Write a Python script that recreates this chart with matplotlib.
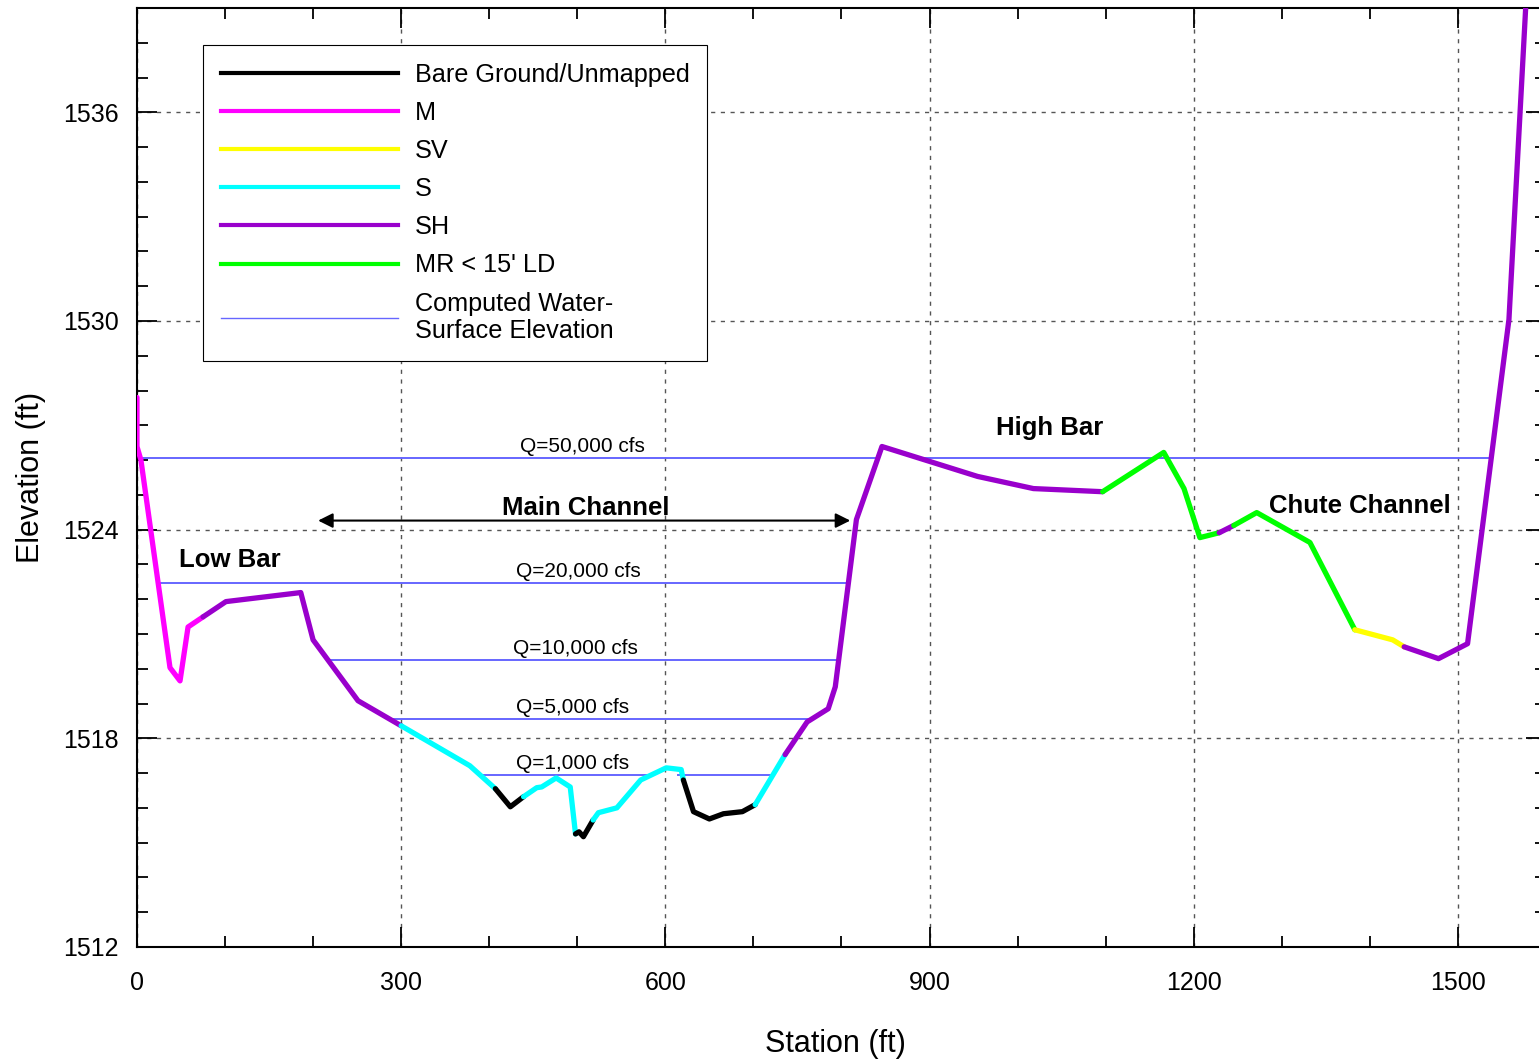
import numpy as np
import matplotlib
matplotlib.use('Agg')
from matplotlib import pyplot as plt
from matplotlib.lines import Line2D
from matplotlib.ticker import MultipleLocator

plt.rcParams['font.family'] = ['Liberation Sans', 'DejaVu Sans']

# cross-section survey points (station ft, elevation ft)
station = [0, 0, 4.5, 37.5, 48.9, 58, 75, 101, 186, 200, 251, 300, 378, 407, 424,
           439, 454, 459.6, 476, 492, 498, 502, 507, 518, 524, 545, 572, 601, 618,
           620.5, 632, 650, 666, 687.5, 702, 736, 761, 785, 793, 817, 846, 954.5,
           1018, 1096.6, 1166, 1189, 1207, 1229, 1245.5, 1271.6, 1332, 1383, 1426,
           1439, 1478, 1511, 1558, 1577]
elevation = [1527.8, 1526.39, 1526.0, 1520.03, 1519.65, 1521.2, 1521.49, 1521.93,
             1522.19, 1520.83, 1519.08, 1518.36, 1517.21, 1516.55, 1516.03, 1516.32,
             1516.58, 1516.6, 1516.86, 1516.6, 1515.25, 1515.31, 1515.17, 1515.65,
             1515.86, 1516.0, 1516.8, 1517.15, 1517.1, 1516.8, 1515.89, 1515.68,
             1515.83, 1515.89, 1516.09, 1517.53, 1518.47, 1518.85, 1519.48, 1524.29,
             1526.39, 1525.53, 1525.18, 1525.09, 1526.22, 1525.18, 1523.77, 1523.91,
             1524.12, 1524.49, 1523.63, 1521.12, 1520.83, 1520.63, 1520.29, 1520.72,
             1530.04, 1539.0]
# vegetation class of each segment (between point i and i+1)
seg_class = (['M'] * 6 + ['SH'] * 5 + ['S'] * 2 + ['BG'] * 2 + ['S'] * 5 + ['BG'] * 3 +
             ['S'] * 6 + ['BG'] * 5 + ['S'] + ['SH'] * 8 + ['MR'] * 4 + ['SH'] +
             ['MR'] * 3 + ['SV'] * 2 + ['SH'] * 4)

classes = ['BG', 'M', 'SV', 'S', 'SH', 'MR']
class_names = ['Bare Ground/Unmapped', 'M', 'SV', 'S', 'SH', "MR < 15' LD"]
class_colors = {'BG': 'black', 'M': '#FF00FF', 'SV': '#FFFF00', 'S': '#00FFFF',
                'SH': '#9900CC', 'MR': '#00FF00'}

# computed water surfaces
flows = ['Q=50,000 cfs', 'Q=20,000 cfs', 'Q=10,000 cfs', 'Q=5,000 cfs', 'Q=1,000 cfs']
wse = [1526.06, 1522.46, 1520.25, 1518.56, 1516.95]
wse_extent = [[(1.5, 841), (887.5, 1537.5)],
              [(24.2, 808.3)],
              [(215.5, 795.8)],
              [(283.7, 766.7)],
              [(389.8, 583), (614.4, 723)]]
flow_label_x = [505.7, 501, 497.7, 495, 495]

water_color = '#6666FF'

fig = plt.figure(figsize=(15.39, 10.61), dpi=100)
ax = fig.add_axes([0.0890, 0.1075, 0.9155, 0.885])

# water surface lines
for q, z, ext, lx in zip(flows, wse, wse_extent, flow_label_x):
    for x0, x1 in ext:
        ax.plot([x0, x1], [z, z], color=water_color, lw=1.4, zorder=2)
    ax.text(lx, z + 0.17, q, ha='center', va='baseline', fontsize=15, zorder=5)

# profile, one polyline per run of the same class
i = 0
while i < len(seg_class):
    j = i
    while j < len(seg_class) and seg_class[j] == seg_class[i]:
        j += 1
    ax.plot(station[i:j + 1], elevation[i:j + 1], color=class_colors[seg_class[i]],
            lw=3.8, solid_joinstyle='round', solid_capstyle='round', zorder=3)
    i = j

# annotations
ax.annotate('', xy=(810, 1524.26), xytext=(205.7, 1524.26),
            arrowprops=dict(arrowstyle='<|-|>', color='black', lw=1.5,
                            mutation_scale=22, shrinkA=0, shrinkB=0))
ax.text(510, 1524.62, 'Main Channel', ha='center', va='center', fontsize=18.5, fontweight='bold')
ax.text(47.7, 1523.12, 'Low Bar', ha='left', va='center', fontsize=18.5, fontweight='bold')
ax.text(975, 1526.92, 'High Bar', ha='left', va='center', fontsize=18.5, fontweight='bold')
ax.text(1286, 1524.68, 'Chute Channel', ha='left', va='center', fontsize=18.5, fontweight='bold')

ax.set_xlim(0, 1600)
ax.set_ylim(1512, 1539)
ax.xaxis.set_major_locator(MultipleLocator(300))
ax.xaxis.set_minor_locator(MultipleLocator(100))
ax.yaxis.set_major_locator(MultipleLocator(6))
ax.yaxis.set_minor_locator(MultipleLocator(1))
ax.tick_params(which='both', direction='in', top=True, right=True, width=1.3, labelsize=18)
ax.tick_params(which='major', length=14.5)
ax.tick_params(which='minor', length=8)
ax.tick_params(axis='x', pad=17)
ax.tick_params(axis='y', pad=13)
for s in ax.spines.values():
    s.set_linewidth(1.5)

ax.grid(which='major', linestyle=(0, (3, 4)), color='#555555', lw=1)
ax.set_axisbelow(True)

ax.set_xlabel('Station (ft)', fontsize=22)
ax.xaxis.set_label_coords(0.4955, -0.0875)
ax.set_ylabel('Elevation (ft)', fontsize=22, labelpad=12)

handles = [Line2D([], [], color=class_colors[c], lw=3) for c in classes]
handles.append(Line2D([], [], color=water_color, lw=1))
labels = class_names + ['Computed Water-\nSurface Elevation']
leg = ax.legend(handles, labels, loc='upper left', bbox_to_anchor=(0.047, 0.9606),
                borderaxespad=0, fontsize=18.2, handlelength=7, handletextpad=0.66,
                labelspacing=0.56, borderpad=0.7, fancybox=False, framealpha=1,
                edgecolor='black')
leg.get_frame().set_linewidth(0.8)
leg.set_zorder(10)

fig.savefig('out.png', dpi=100)
